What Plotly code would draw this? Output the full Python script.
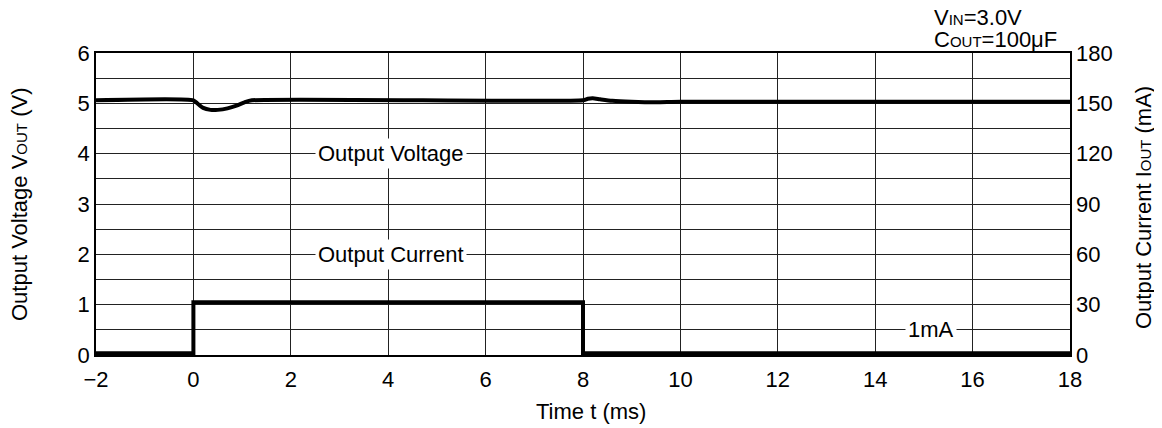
import plotly.graph_objects as go

# Data
v_time = [-2, 0, 0.08, 0.2, 0.35, 0.5, 0.7, 0.9, 1.05, 1.2, 8.0, 8.1, 8.2, 8.35, 8.6, 9.0, 9.5, 10, 18]
v_out = [5.06, 5.06, 5.0, 4.91, 4.87, 4.87, 4.9, 4.96, 5.02, 5.06, 5.06, 5.09, 5.1, 5.08, 5.05, 5.03, 5.02, 5.03, 5.03]
i_time = [-2, 0, 0, 8, 8, 18]
i_out = [1, 1, 31.5, 31.5, 1, 1]

x_ticks = [-2, 0, 2, 4, 6, 8, 10, 12, 14, 16, 18]
y_ticks = [0, 1, 2, 3, 4, 5, 6]
y2_ticks = [0, 30, 60, 90, 120, 150, 180]

FONT = "Liberation Sans, Arial, Helvetica, sans-serif"
FS = 22
SUB = 15
OFF = 8  # page body margin
W, H = 1162 - OFF, 428 - OFF
L, R, T, B = 96 - OFF, 92, 53 - OFF, 73
PW, PH = 974, 302
PL, PB = 96, 355  # plot-area left / bottom in window pixels


def px(xw):
    return (xw - PL) / PW


def py(yw):
    return (PB - yw) / PH


fig = go.Figure()
fig.add_trace(go.Scatter(x=v_time, y=v_out, mode="lines", line=dict(color="black", width=4, shape="spline", smoothing=0.6), showlegend=False))
fig.add_trace(go.Scatter(x=i_time, y=i_out, mode="lines", line=dict(color="black", width=4), yaxis="y2", showlegend=False))

grid = dict(showgrid=True, gridcolor="#222", gridwidth=1)
fig.update_layout(
    width=W, height=H,
    margin=dict(l=L, r=R, t=T, b=B),
    plot_bgcolor="white", paper_bgcolor="white",
    font=dict(family=FONT, size=FS, color="black"),
    xaxis=dict(range=[-2, 18], tickvals=x_ticks, ticktext=[("\u2212" + str(-v)) if v < 0 else str(v) for v in x_ticks],
               showline=True, linecolor="black", linewidth=1.5, mirror=True, zeroline=False, automargin=False,
               ticks="", ticklabelstandoff=4, **grid),
    yaxis=dict(range=[0, 6], tickvals=y_ticks, showline=True, linecolor="black", linewidth=1.5, mirror=True,
               zeroline=False, ticks="", automargin=False,
               minor=dict(dtick=0.5, showgrid=True, gridcolor="#222", gridwidth=1), **grid),
    yaxis2=dict(range=[0, 180], tickvals=y2_ticks, overlaying="y", side="right", showgrid=False, zeroline=False,
                ticks="", automargin=False, ticklabelstandoff=5),
)

ann = dict(showarrow=False, bgcolor="white", font=dict(size=FS), borderpad=2)
fig.add_annotation(x=4.05, y=4, xref="x", yref="y", text="Output Voltage", **ann)
fig.add_annotation(x=4.05, y=2, xref="x", yref="y", text="Output Current", **ann)
fig.add_annotation(x=15.15, y=0.5, xref="x", yref="y", text="1mA", **ann)

title = dict(xref="paper", yref="paper", showarrow=False, font=dict(size=FS), xanchor="center", yanchor="middle")
fig.add_annotation(x=px(591), y=py(411), text="Time t (ms)", **title)
fig.add_annotation(x=px(19), y=py(205), textangle=-90,
                   text=f"Output Voltage V<span style='font-size:{SUB}px'>OUT</span> (V)", **title)
fig.add_annotation(x=px(1143), y=py(208), textangle=-90,
                   text=f"Output Current I<span style='font-size:{SUB}px'>OUT</span> (mA)", **title)

fig.add_annotation(x=px(932), y=py(17), xref="paper", yref="paper",
                   xanchor="left", yanchor="middle", showarrow=False, align="left",
                   text=f"V<span style='font-size:{SUB}px'>IN</span>=3.0V", font=dict(size=FS))
fig.add_annotation(x=px(932), y=py(40), xref="paper", yref="paper",
                   xanchor="left", yanchor="middle", showarrow=False, align="left",
                   text=f"C<span style='font-size:{SUB}px'>OUT</span>=100μF", font=dict(size=FS))

fig.write_html("out.html")
